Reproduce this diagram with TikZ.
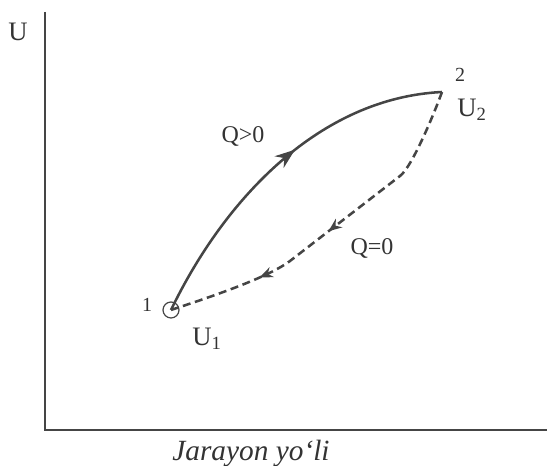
\documentclass[tikz,border=0pt]{standalone}
\usepackage{fontspec}
\setmainfont{Liberation Serif}
\usepackage{tikz}
\usetikzlibrary{arrows.meta,decorations.markings}
\definecolor{ink}     {HTML}{333333}
\definecolor{inkgray} {HTML}{454545}

\begin{document}
\begin{tikzpicture}[x=0.75pt,y=0.75pt,font=\fontsize{20}{22}\selectfont,color=ink,
    curve/.style={inkgray,line width=1.9pt},
    axisline/.style={inkgray,line width=0.9pt},
    qlabel/.style={font=\fontsize{18}{20}\selectfont},
    numlabel/.style={font=\fontsize{15}{17}\selectfont}]
    \useasboundingbox (0,0) rectangle (547,466);

    % axes
    \coordinate (O) at (45,36);
    \coordinate (ytop) at (45,454);
    \coordinate (xend) at (547,36);
    \draw[axisline] (ytop) -- (O) -- (xend);
    \node (lblU) at (18,434) {U};
    \node[font=\fontsize{22}{24}\selectfont\itshape] (lblX) at (251,13) {Jarayon yo‘li};

    % states 1 and 2
    \coordinate (p1) at (171,156);
    \coordinate (p2) at (442,374);
    \draw[inkgray,line width=0.9pt] (p1) circle (6pt);
    \node[numlabel] (n1) at (147,161) {1};
    \node[numlabel] (n2) at (460,391) {2};
    \node (u1) at (207,127) {U\textsubscript{1}};
    \node (u2) at (472,356) {U\textsubscript{2}};

    % heat supplied path
    \draw[curve,postaction={decorate},decoration={markings,
        mark=at position 0.56 with {\arrow{Stealth[length=15pt,width=11pt]}}}]
      (p1) .. controls (225,268) and (320,368) .. (p2);
    \node[qlabel] (qpos) at (243,330) {Q>0};

    % adiabatic path
    \draw[curve,dash pattern=on 6pt off 3.5pt,postaction={decorate},decoration={markings,
        mark=at position 0.51 with {\arrow{Stealth[length=10pt,width=8pt]}},
        mark=at position 0.74 with {\arrow{Stealth[length=10pt,width=8pt]}}}]
      (p2) .. controls (434,352) and (412,299) .. (400,290) -- (290,205)
      .. controls (266,187) and (201,166) .. (p1);
    \node[qlabel] (qzero) at (372,218) {Q=0};
\end{tikzpicture}
\end{document}
